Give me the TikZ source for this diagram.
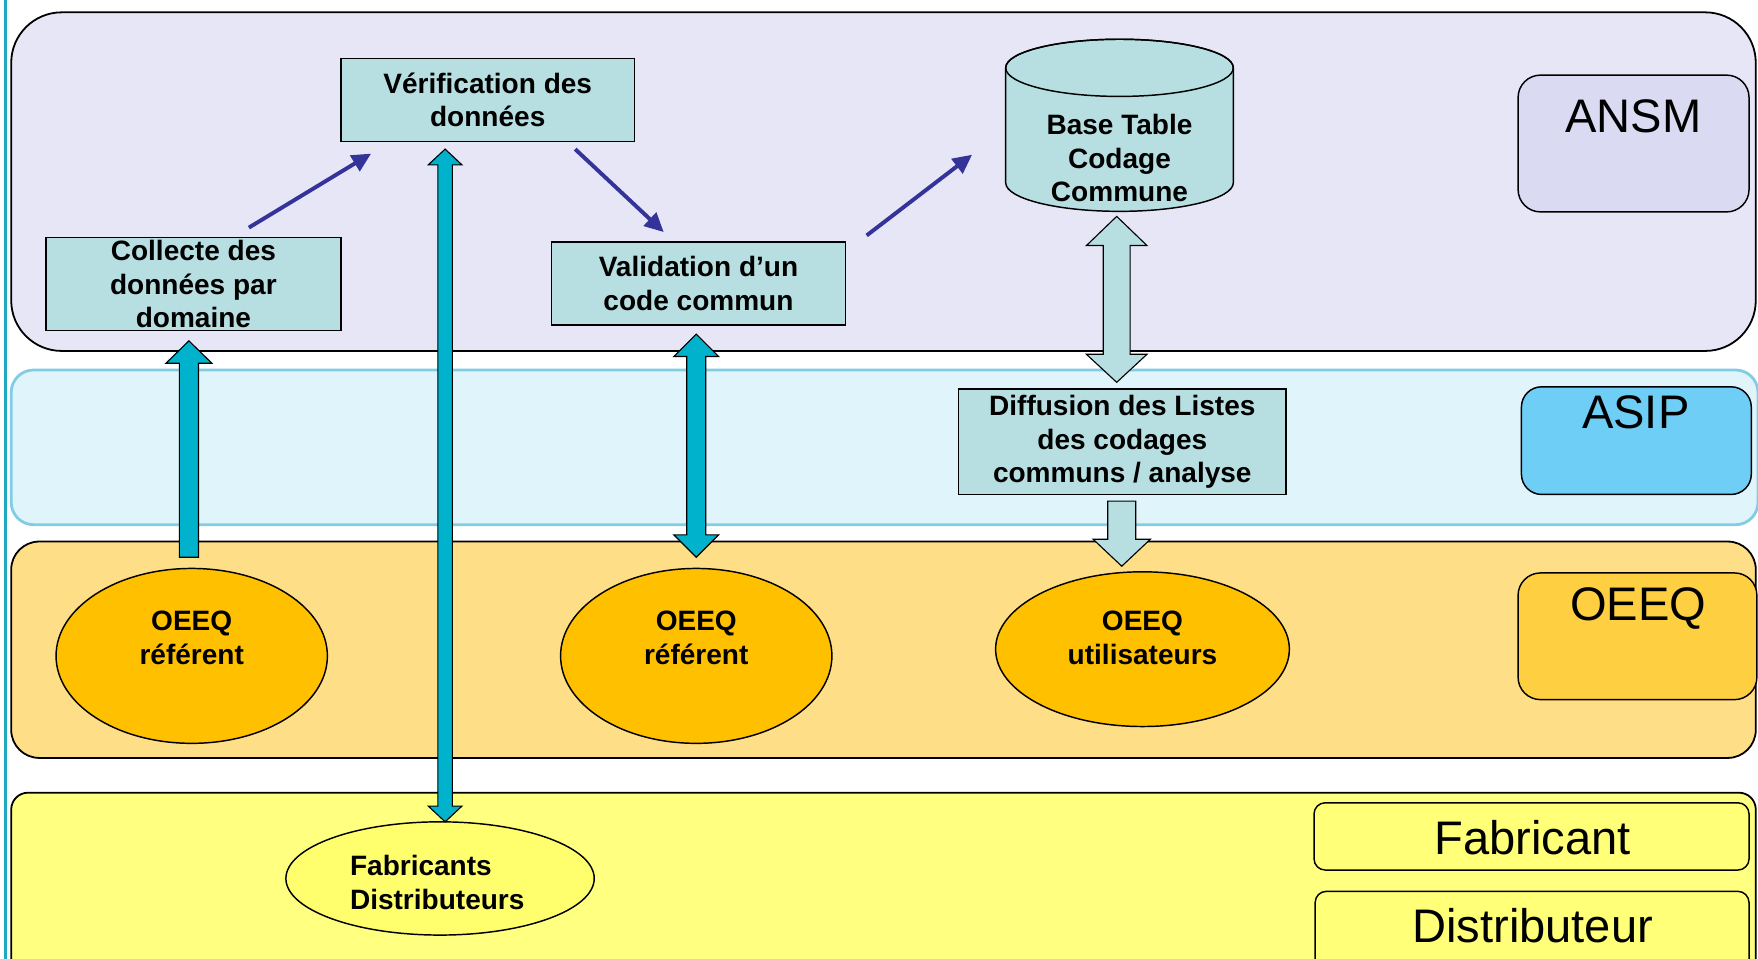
\documentclass[tikz,border=0pt]{standalone}
\usepackage{fontspec}
\setmainfont{Liberation Sans}
\usetikzlibrary{arrows.meta,calc,shapes.geometric}
\definecolor{ansmband}{RGB}{230,230,246}
\definecolor{ansmlab}{RGB}{218,218,242}
\definecolor{asipband}{RGB}{224,245,251}
\definecolor{asipedge}{RGB}{130,205,228}
\definecolor{asiplab}{RGB}{110,206,245}
\definecolor{oeeqband}{RGB}{255,222,136}
\definecolor{oeeqlab}{RGB}{255,207,66}
\definecolor{oeeqell}{RGB}{255,192,0}
\definecolor{fabband}{RGB}{255,255,128}
\definecolor{fablab}{RGB}{255,255,120}
\definecolor{fabell}{RGB}{255,255,110}
\definecolor{boxc}{RGB}{183,223,225}
\definecolor{tealc}{RGB}{0,178,204}
\definecolor{navyc}{RGB}{51,51,153}
\definecolor{leftline}{RGB}{30,170,190}
\newcommand\sblk[6]{\draw[#1] ([shift={(-#4,0)}]#2) -- ([shift={(-#4,#6)}]#3) -- ([shift={(-#5,#6)}]#3) -- (#3) -- ([shift={(#5,#6)}]#3) -- ([shift={(#4,#6)}]#3) -- ([shift={(#4,0)}]#2) -- cycle;}
\newcommand\dblk[7]{\draw[#1] (#2) -- ([shift={(#5,#6)}]#2) -- ([shift={(#4,#6)}]#2) -- ([shift={(#4,#7)}]#3) -- ([shift={(#5,#7)}]#3) -- (#3) -- ([shift={(-#5,#7)}]#3) -- ([shift={(-#4,#7)}]#3) -- ([shift={(-#4,#6)}]#2) -- ([shift={(-#5,#6)}]#2) -- cycle;}
\begin{document}
\begin{tikzpicture}[x=1pt,y=1pt,
  band/.style={draw=black, line width=1.6pt},
  labbox/.style={draw=black, line width=1.3pt},
  box/.style={draw=black, line width=1.3pt, fill=boxc, inner sep=0pt, align=center, font=\bfseries\fontsize{25}{30}\selectfont},
  ell/.style={ellipse, draw=black, line width=1.3pt, inner sep=0pt},
  btext/.style={inner sep=0pt, align=center, font=\bfseries\fontsize{25}{30}\selectfont},
  big/.style={inner sep=0pt, font=\fontsize{42}{50}\selectfont},
  navy/.style={draw=navyc, line width=3.5pt, -{Triangle[length=17pt,width=16pt]}},
  tealblk/.style={fill=tealc, draw=black, line width=1pt},
  cyanblk/.style={fill=boxc, draw=black, line width=1pt}]
\useasboundingbox (0,0) rectangle (1568,-855);
\clip (0,0) rectangle (1568,-855);
\fill[white] (0,0) rectangle (1568,-855);
% bands
\draw[band, fill=ansmband, rounded corners=45pt] (10,-11) rectangle (1566,-313);
\draw[draw=asipedge, line width=2.5pt, fill=asipband, rounded corners=20pt] (10,-330) rectangle (1568,-468);
\draw[band, fill=oeeqband, rounded corners=25pt] (10,-483) rectangle (1566,-676);
\draw[band, fill=fabband, rounded corners=15pt] (10,-707) rectangle (1566,-900);
\draw[leftline, line width=2pt] (5,0) -- (5,-855);
% label boxes
\draw[labbox, fill=ansmlab, rounded corners=20pt] (1354,-67) rectangle (1560,-189);
\node[big] (ansm) at (1457,-104) {ANSM};
\draw[labbox, fill=asiplab, rounded corners=18pt] (1357,-345) rectangle (1562,-441);
\node[big] (asip) at (1459,-368) {ASIP};
\draw[labbox, fill=oeeqlab, rounded corners=20pt] (1354,-511) rectangle (1567,-624);
\node[big] (oeeq) at (1461,-543) {OEEQ};
\filldraw[fill=fablab, draw=black, line width=1.3pt, rounded corners=10pt] (1172,-716) rectangle (1560,-776);
\node[big] (fabl) at (1367,-747) {Fabricant};
\filldraw[fill=fablab, draw=black, line width=1.3pt, rounded corners=10pt] (1173,-795) rectangle (1560,-870);
\node[big] (distl) at (1367,-826) {Distributeur};
% boxes
\node[box, minimum width=262pt, minimum height=74pt] (verif) at (435,-89) {Vérification des\\données};
\node[box, minimum width=263pt, minimum height=83pt] (collecte) at (172.5,-253.5) {Collecte des\\données par\\domaine};
\node[box, minimum width=262pt, minimum height=74pt] (valid) at (623,-253) {Validation d’un\\code commun};
\node[box, minimum width=292pt, minimum height=94pt] (diff) at (1001,-394) {Diffusion des Listes\\des codages\\communs / analyse};
% cylinder
\filldraw[fill=boxc, draw=black, line width=1.3pt] (897,-60.5) -- (897,-163) arc[start angle=180, end angle=360, x radius=101.5, y radius=25.5] -- (1100,-60.5) arc[start angle=0, end angle=180, x radius=101.5, y radius=25.5] -- cycle;
\draw[black, line width=1.3pt] (998.5,-60.5) ellipse[x radius=101.5, y radius=25.5];
\node[btext] (base) at (998.5,-141) {Base Table\\Codage\\Commune};
% ellipses
\node[ell, fill=oeeqell, minimum width=242pt, minimum height=156pt] (oeq1) at (171,-585) {};
\node[btext] (t1) at ([yshift=16pt]oeq1.center) {OEEQ\\référent};
\node[ell, fill=oeeqell, minimum width=242pt, minimum height=156pt] (oeq2) at (621,-585) {};
\node[btext] (t2) at ([yshift=16pt]oeq2.center) {OEEQ\\référent};
\node[ell, fill=oeeqell, minimum width=262pt, minimum height=138pt] (oeq3) at (1019,-579) {};
\node[btext] (t3) at ([yshift=10pt]oeq3.center) {OEEQ\\utilisateurs};
\node[ell, fill=fabell, minimum width=275pt, minimum height=101pt] (fab) at (392.5,-783.5) {};
\node[btext, align=left] (t4) at (390,-787) {Fabricants\\Distributeurs};
% navy arrows
\coordinate (n1a) at (222,-203); \coordinate (n1b) at (331,-137);
\coordinate (n2a) at (513,-133); \coordinate (n2b) at (592,-207);
\coordinate (n3a) at (773,-210); \coordinate (n3b) at (867,-138);
\draw[navy] (n1a) -- (n1b);
\draw[navy] (n2a) -- (n2b);
\draw[navy] (n3a) -- (n3b);
% block arrows
\coordinate (aAt) at (168.5,-497); \coordinate (aAh) at (168.5,-304);
\sblk{tealblk}{aAt}{aAh}{8.5}{20.5}{-20}
\coordinate (bT) at (397,-133); \coordinate (bB) at (397,-733);
\dblk{tealblk}{bT}{bB}{6.5}{15}{-14}{14}
\coordinate (cT) at (621,-298); \coordinate (cB) at (621,-497);
\dblk{tealblk}{cT}{cB}{8.5}{20}{-20}{20}
\coordinate (dT) at (996,-193); \coordinate (dB) at (996,-341);
\dblk{cyanblk}{dT}{dB}{12}{27}{-26}{25}
\coordinate (eT) at (1000.5,-447); \coordinate (eB) at (1000.5,-505);
\sblk{cyanblk}{eT}{eB}{12.5}{25.5}{24}
\end{tikzpicture}
\end{document}
